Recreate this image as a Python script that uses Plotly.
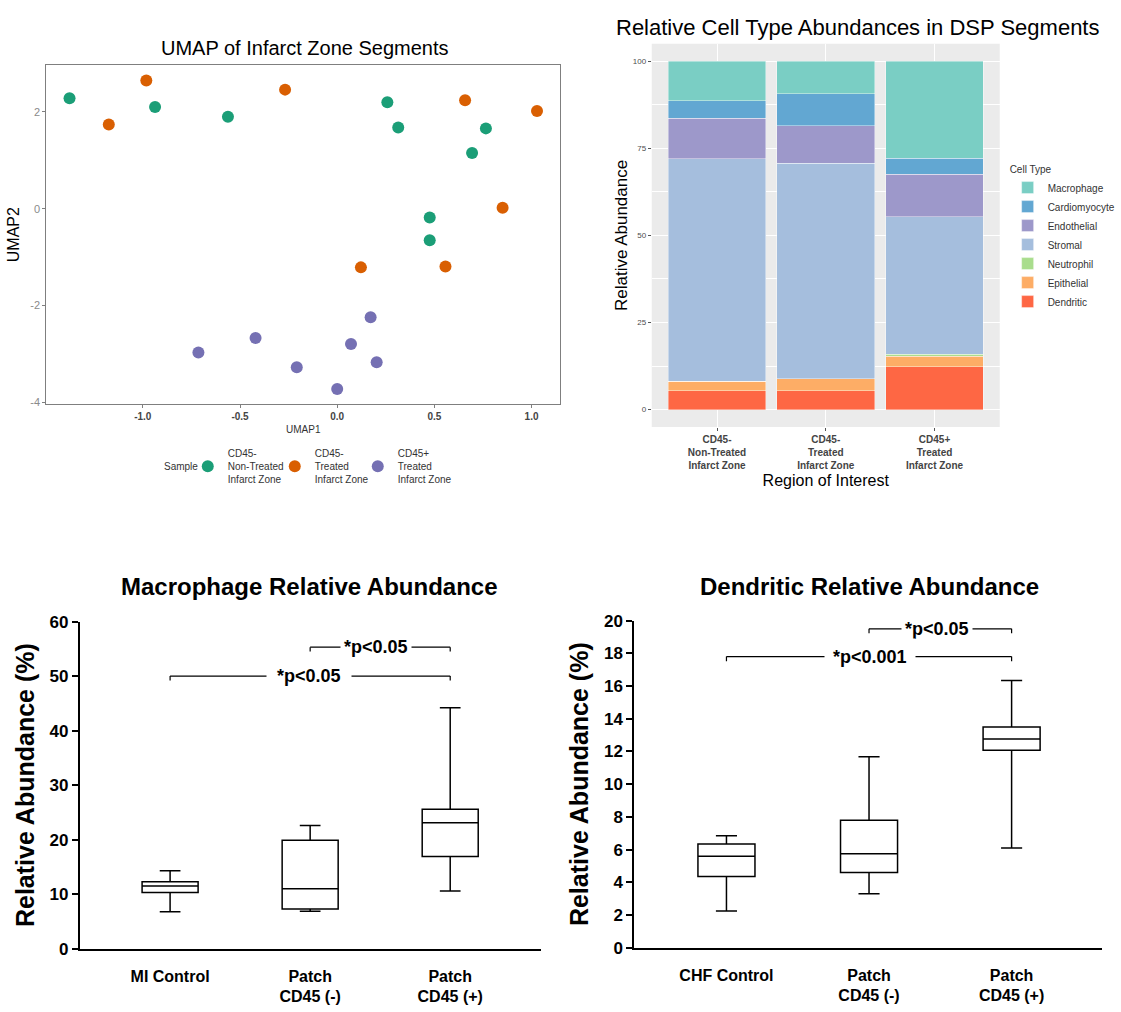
import plotly.graph_objects as go

W, H = 1121, 1012
FONT = "Liberation Sans, Arial, sans-serif"

# ---------------- UMAP data ----------------
umap_groups = ["CD45-<br>Non-Treated<br>Infarct Zone", "CD45-<br>Treated<br>Infarct Zone", "CD45+<br>Treated<br>Infarct Zone"]
umap_colors = ["#1B9E77", "#D95F02", "#7570B3"]
umap_legend_widths = [42, 38, 60]
umap1_nontreated = [-1.377, -0.937, -0.562, 0.258, 0.314, 0.765, 0.694, 0.476, 0.476]
umap2_nontreated = [2.28, 2.10, 1.90, 2.20, 1.68, 1.66, 1.15, -0.18, -0.65]
umap1_treated = [-1.175, -0.982, -0.268, 0.658, 1.028, 0.851, 0.122, 0.557]
umap2_treated = [1.74, 2.65, 2.46, 2.24, 2.02, 0.02, -1.21, -1.19]
umap1_cd45pos = [-0.714, -0.42, -0.208, 0.0, 0.071, 0.172, 0.203]
umap2_cd45pos = [-2.97, -2.67, -3.27, -3.72, -2.79, -2.24, -3.17]
umap_x_ticks = [-1.0, -0.5, 0.0, 0.5, 1.0]
umap_x_ticktext = ["-1.0", "-0.5", "0.0", "0.5", "1.0"]
umap_y_ticks = [-4, -2, 0, 2]
umap_y_ticktext = ["-4", "-2", "0", "2"]

# ---------------- Stacked bar data ----------------
regions = ["CD45-<br>Non-Treated<br>Infarct Zone", "CD45-<br>Treated<br>Infarct Zone", "CD45+<br>Treated<br>Infarct Zone"]
cell_types = ["Dendritic", "Epithelial", "Neutrophil", "Stromal", "Endothelial", "Cardiomyocyte", "Macrophage"]
cell_colors = ["#FE6744", "#FDAD66", "#A9DD8D", "#A5BEDD", "#9D98CA", "#62A7D2", "#7ACEC4"]
dendritic = [5.35, 5.35, 12.3]
epithelial = [2.8, 3.45, 3.0]
neutrophil = [0.05, 0.05, 0.6]
stromal = [63.8, 61.8, 39.4]
endothelial = [11.6, 10.9, 12.3]
cardiomyocyte = [5.1, 9.1, 4.6]
macrophage = [11.3, 9.35, 27.8]
cell_values = [dendritic, epithelial, neutrophil, stromal, endothelial, cardiomyocyte, macrophage]
bar_y_ticks = [0, 25, 50, 75, 100]

# ---------------- Box plot data ----------------
mac_groups = ["MI Control", "Patch<br>CD45 (-)", "Patch<br>CD45 (+)"]
mac_min = [6.8, 6.85, 10.6]
mac_q1 = [10.3, 7.3, 16.9]
mac_median = [11.5, 11.0, 23.1]
mac_q3 = [12.3, 19.9, 25.6]
mac_max = [14.3, 22.6, 44.2]
mac_sig_from = [1, 0]
mac_sig_to = [2, 2]
mac_sig_level = [55.3, 50.0]
mac_sig_text = ["*p&lt;0.05", "*p&lt;0.05"]
mac_sig_textpos = [1.47, 0.99]

den_groups = ["CHF Control", "Patch<br>CD45 (-)", "Patch<br>CD45 (+)"]
den_min = [2.24, 3.3, 6.1]
den_q1 = [4.36, 4.6, 12.08]
den_median = [5.6, 5.74, 12.76]
den_q3 = [6.34, 7.8, 13.5]
den_max = [6.84, 11.68, 16.34]
den_sig_from = [1, 0]
den_sig_to = [2, 2]
den_sig_level = [19.5, 17.8]
den_sig_text = ["*p&lt;0.05", "*p&lt;0.001"]
den_sig_textpos = [1.48, 1.01]

fig = go.Figure()

# UMAP scatter
for name, col, lw, xs, ys in zip(umap_groups, umap_colors, umap_legend_widths,
                                 [umap1_nontreated, umap1_treated, umap1_cd45pos],
                                 [umap2_nontreated, umap2_treated, umap2_cd45pos]):
    fig.add_trace(go.Scatter(x=xs, y=ys, mode="markers", name=name,
                             marker=dict(size=12, color=col), legendwidth=lw,
                             xaxis="x", yaxis="y", legend="legend"))

# Stacked bars
for ct, col, vals in zip(cell_types, cell_colors, cell_values):
    fig.add_trace(go.Bar(x=regions, y=vals, name=ct, width=0.9,
                         marker=dict(color=col, line=dict(color="white", width=0.4)),
                         xaxis="x2", yaxis="y2", legend="legend2"))

# Box plots
box_style = dict(fillcolor="white", line=dict(color="black", width=1.5),
                 width=0.4, whiskerwidth=0.37, boxpoints=False, showlegend=False)
fig.add_trace(go.Box(x=mac_groups, q1=mac_q1, median=mac_median, q3=mac_q3,
                     lowerfence=mac_min, upperfence=mac_max,
                     xaxis="x3", yaxis="y3", **box_style))
fig.add_trace(go.Box(x=den_groups, q1=den_q1, median=den_median, q3=den_q3,
                     lowerfence=den_min, upperfence=den_max,
                     xaxis="x4", yaxis="y4", **box_style))

shapes = []
annotations = []

# gray panel background for stacked bar
shapes.append(dict(type="rect", xref="x2 domain", yref="y2 domain", x0=0, x1=1, y0=0, y1=1,
                   fillcolor="#EBEBEB", line=dict(width=0), layer="below"))

def add_brackets(xr, yr, froms, tos, levels, texts, tpos, drop, pads):
    for a, b, lv, t, tp, pad in zip(froms, tos, levels, texts, tpos, pads):
        shapes.append(dict(type="line", xref=xr, yref=yr, x0=a, x1=b, y0=lv, y1=lv,
                           line=dict(color="black", width=1.2)))
        for e in (a, b):
            shapes.append(dict(type="line", xref=xr, yref=yr, x0=e, x1=e, y0=lv, y1=lv - drop,
                               line=dict(color="black", width=1.2)))
        annotations.append(dict(xref=xr, yref=yr, x=tp, y=lv, text=t, showarrow=False,
                                bgcolor="white", borderpad=pad,
                                font=dict(family=FONT, size=18, color="black", weight="bold")))

add_brackets("x3", "y3", mac_sig_from, mac_sig_to, mac_sig_level, mac_sig_text, mac_sig_textpos, 0.8, [3, 10])
add_brackets("x4", "y4", den_sig_from, den_sig_to, den_sig_level, den_sig_text, den_sig_textpos, 0.28, [3, 8])

# Panel titles
titles = [
    ("UMAP of Infarct Zone Segments", 310, 40, 20, "normal"),
    ("Relative Cell Type Abundances in DSP Segments", 872, 19, 22, "normal"),
    ("Macrophage Relative Abundance", 315, 589, 24, "bold"),
    ("Dendritic Relative Abundance", 884, 589, 24, "bold"),
]
for t, px, py, sz, wt in titles:
    annotations.append(dict(xref="paper", yref="paper", x=px / W, y=1 - py / H, text=t,
                            showarrow=False, xanchor="center", yanchor="middle",
                            font=dict(family=FONT, size=sz, color="black", weight=wt)))

# UMAP legend title
annotations.append(dict(xref="paper", yref="paper", x=203 / W, y=1 - 466 / H, text="Sample",
                        showarrow=False, xanchor="right", yanchor="middle",
                        font=dict(family=FONT, size=10, color="#333333")))

box_tickfont = dict(family=FONT, size=17, color="black", weight="bold")
box_xfont = dict(family=FONT, size=16, color="black", weight="bold")

fig.update_layout(
    width=W, height=H, margin=dict(l=0, r=0, t=0, b=0),
    paper_bgcolor="white", plot_bgcolor="white",
    barmode="stack", font=dict(family=FONT),
    shapes=shapes, annotations=annotations,
    xaxis=dict(domain=[47 / W, 570 / W], anchor="y", range=[-1.497, 1.148],
               tickvals=umap_x_ticks, ticktext=umap_x_ticktext,
               showgrid=False, zeroline=False, showline=True, mirror=True,
               linecolor="#7F7F7F", linewidth=1, ticks="outside", ticklen=3, tickcolor="#7F7F7F",
               tickfont=dict(size=10, color="#444444", weight="bold"),
               title=dict(text="UMAP1", font=dict(size=10, color="#333333"), standoff=4)),
    yaxis=dict(domain=[1 - 403 / H, 1 - 57 / H], anchor="x", range=[-4.04, 2.97],
               tickvals=umap_y_ticks, ticktext=umap_y_ticktext,
               showgrid=False, zeroline=False, showline=True, mirror=True,
               linecolor="#7F7F7F", linewidth=1, ticks="outside", ticklen=3, tickcolor="#7F7F7F",
               tickfont=dict(size=11, color="#8A8A8A"),
               title=dict(text="UMAP2", font=dict(size=16, color="black"), standoff=6)),
    xaxis2=dict(domain=[663 / W, 1017 / W], anchor="y2", type="category", range=[-0.6, 2.6],
                showgrid=True, gridcolor="white", gridwidth=1.2, zeroline=False, showline=False,
                ticks="outside", ticklen=3, tickcolor="#555555",
                tickfont=dict(size=10, color="#444444", weight="bold"),
                title=dict(text="Region of Interest", font=dict(size=16, color="black"), standoff=4)),
    yaxis2=dict(domain=[1 - 426 / H, 1 - 35.5 / H], anchor="x2", range=[-5, 105],
                tickvals=bar_y_ticks, showgrid=True, gridcolor="white", gridwidth=1.2,
                minor=dict(dtick=12.5, showgrid=True, gridcolor="white", gridwidth=0.6),
                zeroline=False, showline=False, ticks="outside", ticklen=3, tickcolor="#555555",
                tickfont=dict(size=8, color="#4D4D4D"),
                title=dict(text="Relative Abundance", font=dict(size=17, color="black"), standoff=0)),
    xaxis3=dict(domain=[81 / W, 550 / W], anchor="y3", type="category", range=[-0.646, 2.646],
                showgrid=False, zeroline=False, showline=True, linecolor="black", linewidth=1.5,
                ticks="", tickfont=box_xfont, ticklabelstandoff=12),
    yaxis3=dict(domain=[1 - 957.7 / H, 1 - 624.3 / H], anchor="x3", range=[0, 60], dtick=10,
                showgrid=False, zeroline=False, showline=True, linecolor="black", linewidth=1.5,
                ticks="outside", ticklen=6, tickwidth=1.5, tickcolor="black", tickfont=box_tickfont,
                title=dict(text="Relative Abundance (%)",
                           font=dict(family=FONT, size=25, color="black", weight="bold"), standoff=8)),
    xaxis4=dict(domain=[645 / W, 1.0], anchor="y4", type="category", range=[-0.648, 2.634],
                showgrid=False, zeroline=False, showline=True, linecolor="black", linewidth=1.5,
                ticks="", tickfont=box_xfont, ticklabelstandoff=12),
    yaxis4=dict(domain=[1 - 956.7 / H, 1 - 623.3 / H], anchor="x4", range=[0, 20], dtick=2,
                showgrid=False, zeroline=False, showline=True, linecolor="black", linewidth=1.5,
                ticks="outside", ticklen=6, tickwidth=1.5, tickcolor="black", tickfont=box_tickfont,
                title=dict(text="Relative Abundance (%)",
                           font=dict(family=FONT, size=25, color="black", weight="bold"), standoff=8)),
    legend=dict(orientation="h", x=191 / W, y=1 - 466 / H, xanchor="left", yanchor="middle",
                font=dict(size=10, color="#333333"), itemwidth=30,
                bgcolor="rgba(0,0,0,0)"),
    legend2=dict(orientation="v", x=1025 / W, y=1 - 154 / H, xanchor="left", yanchor="top",
                 title=dict(text="Cell Type", font=dict(size=10, color="#333333")),
                 font=dict(size=10, color="#333333"), traceorder="reversed", tracegroupgap=0,
                 itemwidth=30, bgcolor="rgba(0,0,0,0)"),
)

fig.write_html("out.html")
